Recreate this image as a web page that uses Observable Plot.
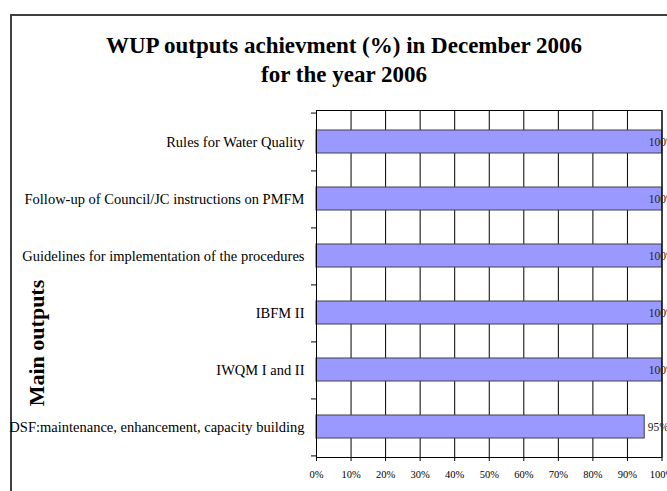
<!DOCTYPE html>
<html>
<head>
<meta charset="utf-8">
<script src="https://cdn.jsdelivr.net/npm/d3@7"></script>
<script src="https://cdn.jsdelivr.net/npm/@observablehq/plot@0.6"></script>
<style>
  html, body { margin: 0; padding: 0; background: #fff; overflow: hidden; }
  #wrap { position: relative; width: 667px; height: 491px; overflow: hidden; font-family: "Liberation Serif", "Times New Roman", serif; }
  #border { position: absolute; left: 10px; top: 14px; width: 700px; height: 520px; border: 2px solid #404040; box-sizing: border-box; }
  #title { position: absolute; left: 10px; width: 668px; top: 31px; text-align: center; font-weight: bold; font-size: 23px; line-height: 29px; color: #000; }
  #ylab { position: absolute; left: 37px; top: 343px; transform: translate(-50%, -50%) rotate(-90deg); white-space: nowrap; font-weight: bold; font-size: 22px; line-height: 24px; color: #000; }
  #chart { position: absolute; left: 0; top: 0; }
  #chart svg, #chart svg text { font-family: "Liberation Serif", "Times New Roman", serif !important; }
</style>
</head>
<body>
<div id="wrap">
  <div id="border"></div>
  <div id="chart"></div>
  <div id="title">WUP outputs achievment (%) in December 2006<br>for the year 2006</div>
  <div id="ylab"></div>
</div>
<script>
const categories = [
  "Rules for Water Quality",
  "Follow-up of Council/JC instructions on PMFM",
  "Guidelines for implementation of the procedures",
  "IBFM II",
  "IWQM I and II",
  "DSF:maintenance, enhancement, capacity building"
];
const values = [100, 100, 100, 100, 100, 95];
const xTicks = [0, 10, 20, 30, 40, 50, 60, 70, 80, 90, 100];
const yAxisTitle = "Main outputs";

document.getElementById("ylab").textContent = yAxisTitle;

const data = categories.map((c, i) => ({cat: c, value: values[i]}));

const FONT = "Liberation Serif";
const W = 667, H = 491, mT = 110, mB = 34, mL = 316, mR = 5.5;
const band = (H - mT - mB) / categories.length;

const chart = Plot.plot({
  width: W,
  height: H,
  marginTop: mT,
  marginBottom: mB,
  marginLeft: mL,
  marginRight: mR,
  style: {fontFamily: FONT, background: "transparent", color: "#000", overflow: "visible"},
  x: {domain: [0, 100]},
  y: {domain: categories, padding: 0},
  marks: [
    Plot.gridX(xTicks.slice(1), {stroke: "#000", strokeOpacity: 1, strokeWidth: 1}),
    Plot.barX(data, {y: "cat", x: "value", fill: "#9999FF", stroke: "#404040", strokeWidth: 1, insetTop: 17, insetBottom: 17}),
    Plot.frame({stroke: "#000", strokeWidth: 1}),
    Plot.axisX({ticks: xTicks, tickFormat: d => d + "%", tickSize: 4, tickPadding: 9, fontSize: 10.5, fontFamily: FONT, label: null}),
    Plot.axisY({tickSize: 0, tickPadding: 12, fontSize: 14.5, fontFamily: FONT, label: null}),
    Plot.ruleY(categories, {y: d => d, dy: band / 2, x1: 0, x2: 0, insetLeft: -5, stroke: "#000"}),
    Plot.ruleY(categories.slice(0, 1), {y: d => d, dy: -band / 2, x1: 0, x2: 0, insetLeft: -5, stroke: "#000"}),
    Plot.text(data, {y: "cat", x: d => Math.min(d.value, 95.3), text: d => d.value + "%", textAnchor: "start", dx: 3, fontSize: 11.5, fontFamily: FONT, fill: "#222"})
  ]
});
document.getElementById("chart").appendChild(chart);
</script>
</body>
</html>
